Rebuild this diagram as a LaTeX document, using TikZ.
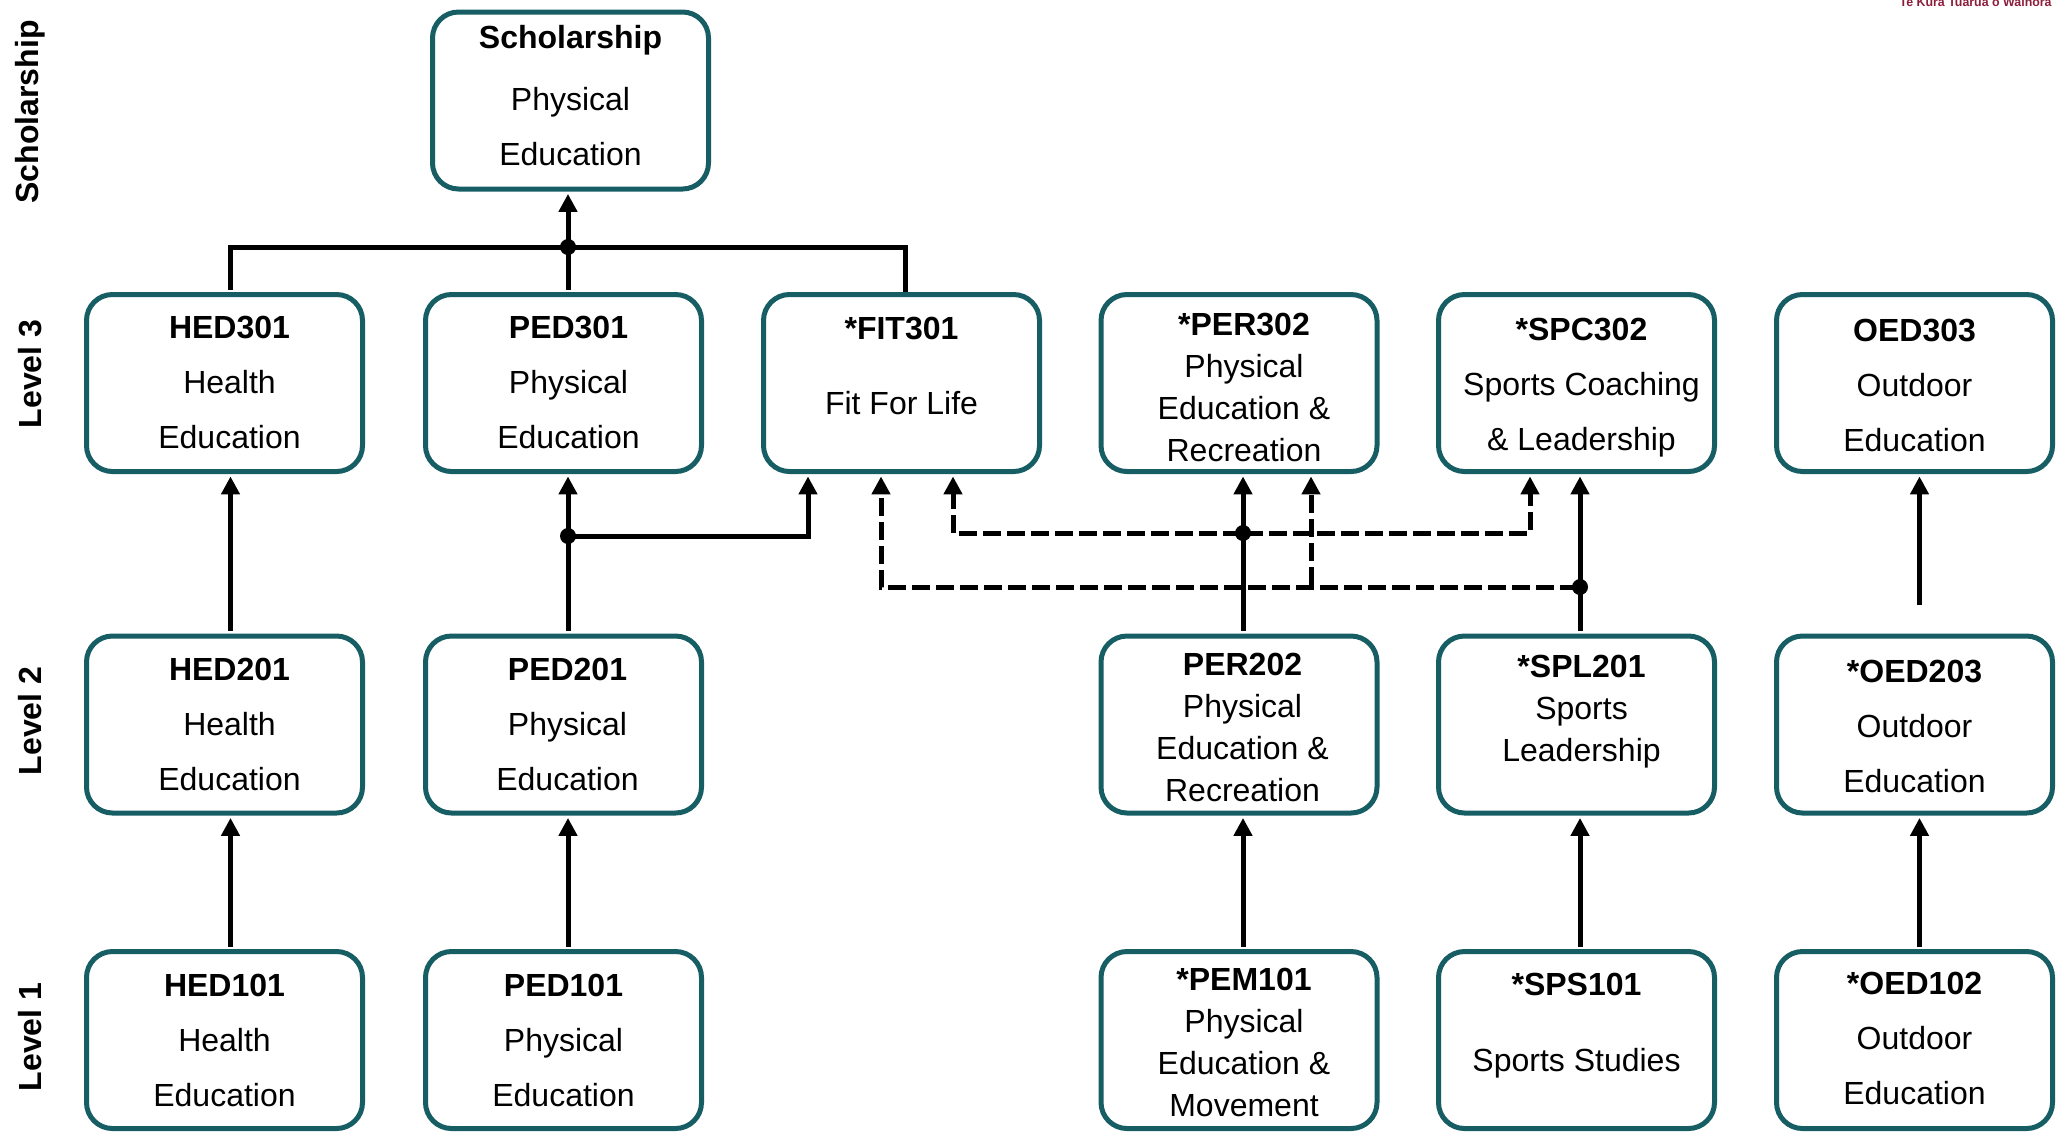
\documentclass[tikz,border=0pt]{standalone}
\usepackage{fontspec}
\setmainfont{Liberation Sans}
\usetikzlibrary{arrows.meta}
\definecolor{boxteal}{RGB}{22,94,100}
\definecolor{logored}{RGB}{140,30,60}
\begin{document}
\begin{tikzpicture}[x=0.5pt,y=-0.5pt,
  box/.style={draw=boxteal, line width=2.5pt, rounded corners=13pt, fill=white,
    minimum width=138pt, minimum height=88.5pt, inner sep=0pt},
  txt/.style={inner sep=0pt, align=center, font=\fontsize{16pt}{27.5pt}\selectfont},
  txtfour/.style={txt, font=\fontsize{16pt}{21pt}\selectfont},
  lvl/.style={inner sep=0pt, rotate=90, font=\bfseries\fontsize{16pt}{19pt}\selectfont},
  conn/.style={line width=2.5pt, black, shorten <=1.2pt},
  arr/.style={-{Triangle[length=9pt,width=9pt]}, shorten >=1.2pt},
  dsh/.style={conn, dash pattern=on 9pt off 3pt},
  dot/.style={black}
]
\useasboundingbox (0,0) rectangle (2060,1132);

% logo text (cut at the top edge)
\node[inner sep=0pt, anchor=base east, text=logored, font=\bfseries\fontsize{6.2pt}{7pt}\selectfont] (logo) at (2052,6) {Te Kura Tuarua o Waihora};

% level labels
\node[lvl] (lvS) at (30,112) {Scholarship};
\node[lvl] (lv3) at (30,374) {Level 3};
\node[lvl] (lv2) at (30,721) {Level 2};
\node[lvl] (lv1) at (30,1037) {Level 1};

% boxes
\node[box] (SCH) at (570.5,100.5) {};
\node[box] (HED301) at (224.5,383) {};
\node[box] (PED301) at (563.5,383) {};
\node[box] (FIT301) at (901.5,383) {};
\node[box] (PER302) at (1239,383) {};
\node[box] (SPC302) at (1576.5,383) {};
\node[box] (OED303) at (1914.5,383) {};
\node[box] (HED201) at (224.5,724.5) {};
\node[box] (PED201) at (563.5,724.5) {};
\node[box] (PER202) at (1239,724.5) {};
\node[box] (SPL201) at (1576.5,724.5) {};
\node[box] (OED203) at (1914.5,724.5) {};
\node[box] (HED101) at (224.5,1040) {};
\node[box] (PED101) at (563.5,1040) {};
\node[box] (PEM101) at (1239,1040) {};
\node[box] (SPS101) at (1576.5,1040) {};
\node[box] (OED102) at (1914.5,1040) {};

% box texts
\node[txt] (SCHt) at (570.5,95.5) {\textbf{Scholarship}\\[3.5pt]Physical\\Education};
\node[txt] (HED301t) at (229.5,382) {\textbf{HED301}\\Health\\Education};
\node[txt] (PED301t) at (568.5,382) {\textbf{PED301}\\Physical\\Education};
\node[txt] (FIT301t) at (901.5,365.5) {\textbf{*FIT301}\\[10pt]Fit For Life};
\node[txtfour] (PER302t) at (1244,387) {\textbf{*PER302}\\Physical\\Education \&\\Recreation};
\node[txt] (SPC302t) at (1581.5,387.5) {\textbf{*SPC302}\\Sports Coaching\\\& Leadership};
\node[txt] (OED303t) at (1914.5,385) {\textbf{OED303}\\Outdoor\\Education};

\node[txt] (HED201t) at (229.5,724.5) {\textbf{HED201}\\Health\\Education};
\node[txt] (PED201t) at (567.5,724.5) {\textbf{PED201}\\Physical\\Education};
\node[txtfour] (PER202t) at (1242.5,727) {\textbf{PER202}\\Physical\\Education \&\\Recreation};
\node[txtfour] (SPL201t) at (1581.5,712) {\textbf{*SPL201}\\Sports\\Leadership};
\node[txt] (OED203t) at (1914.5,726) {\textbf{*OED203}\\Outdoor\\Education};

\node[txt] (HED101t) at (224.5,1040) {\textbf{HED101}\\Health\\Education};
\node[txt] (PED101t) at (563.5,1040) {\textbf{PED101}\\Physical\\Education};
\node[txtfour] (PEM101t) at (1244,1042.5) {\textbf{*PEM101}\\Physical\\Education \&\\Movement};
\node[txt] (SPS101t) at (1576.5,1026) {\textbf{*SPS101}\\[10.5pt]Sports Studies};
\node[txt] (OED102t) at (1914.5,1038.5) {\textbf{*OED102}\\Outdoor\\Education};

% x positions of the connectors
\coordinate (xH) at (230.5,0);
\coordinate (xF) at (905,0);
\coordinate (xF1) at (808,0);
\coordinate (xF2) at (881,0);
\coordinate (xF3) at (953,0);
\coordinate (xR2) at (1311,0);
\coordinate (xS2) at (1530,0);
\coordinate (xO) at (1919.5,0);
% junctions
\coordinate (jS) at (568,247);
\coordinate (jP) at (568,536);
\coordinate (jR) at (1243,533);
\coordinate (jL) at (1580,587);
\coordinate (jT) at (1311,587);
\coordinate (oedstub) at (1919.5,607);

% scholarship bus
\draw[conn] (HED301.north -| xH) |- (jS) -| (FIT301.north -| xF);
\draw[conn,arr] (PED301.north -| jS) -- (SCH.south -| jS);
\fill[dot] (jS) circle (4pt);

% health
\draw[conn,arr] (HED101.north -| xH) -- (HED201.south -| xH);
\draw[conn,arr] (HED201.north -| xH) -- (HED301.south -| xH);

% physical education
\draw[conn,arr] (PED101.north -| jP) -- (PED201.south -| jP);
\draw[conn,arr] (PED201.north -| jP) -- (PED301.south -| jP);
\draw[conn,arr] (jP) -| (FIT301.south -| xF1);
\fill[dot] (jP) circle (4pt);

% PE & recreation
\draw[conn,arr] (PEM101.north -| jR) -- (PER202.south -| jR);
\draw[conn,arr] (PER202.north -| jR) -- (PER302.south -| jR);
\draw[dsh,arr] (jR) -| (FIT301.south -| xF3);
\draw[dsh,arr] (jR) -| (SPC302.south -| xS2);

% sports
\draw[conn,arr] (SPS101.north -| jL) -- (SPL201.south -| jL);
\draw[conn,arr] (SPL201.north -| jL) -- (SPC302.south -| jL);
\draw[dsh,arr] (jL) -| (FIT301.south -| xF2);
\draw[dsh,arr] (jT) -- (PER302.south -| xR2);
\fill[dot] (jR) circle (4pt);
\fill[dot] (jL) circle (4pt);

% outdoor
\draw[conn,arr] (OED102.north -| xO) -- (OED203.south -| xO);
\draw[conn,arr] (oedstub) -- (OED303.south -| xO);
\end{tikzpicture}
\end{document}
